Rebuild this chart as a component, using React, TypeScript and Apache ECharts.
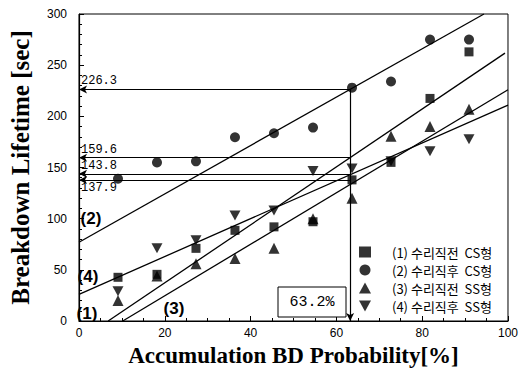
import React, { useEffect, useRef } from "react";
import * as echarts from "echarts";

// Median-rank plotting positions [%]
const probX = [9.09, 18.18, 27.27, 36.36, 45.45, 54.55, 63.64, 72.73, 81.82, 90.91];
// Breakdown lifetime [sec]
const csBefore = [42.7, 45.6, 71, 88.6, 92, 97, 137.9, 155, 217.5, 263];
const csAfter = [139, 155, 156, 179.6, 183.5, 189, 228, 234, 275, 275];
const ssBefore = [20, 44, 56, 61, 71, 100, 120, 180.6, 190, 207];
const ssAfter = [29, 71, 79, 103, 108, 146.6, 149, 156, 166, 177.7];

// fitted lines (endpoints)
const fit1 = [[6.8, 0], [99.3, 261.8]];
const fit2 = [[0, 77], [94.4, 300]];
const fit3 = [[10.2, 0], [100, 226]];
const fit4 = [[0, 26], [100, 211]];

const refX = 63.2;
const refValues = [226.3, 159.6, 143.8, 137.9];
const refLabelBelow = [false, false, false, true];

const seriesNames = [
  "(1) 수리직전  CS형",
  "(2) 수리직후  CS형",
  "(3) 수리직전  SS형",
  "(4) 수리직후  SS형",
];
const fitLabels = ["(1)", "(2)", "(3)", "(4)"];

const downTri = "path://M0,0L10,0L5,9Z";

export default function App() {
  const ref = useRef<HTMLDivElement>(null);
  useEffect(() => {
    if (!ref.current) return;
    const chart = echarts.init(ref.current, undefined, { renderer: "svg" });
    const pts = (arr: number[]) => probX.map((x, i) => [x, arr[i]]);
    const fitStyle = { color: "#000", width: 1.3 };
    const markData: any[] = refValues.map((v, i) => [
      {
        coord: [0, v],
        name: v.toFixed(1),
        symbol: "arrow",
        label: { position: refLabelBelow[i] ? "insideStartBottom" : "insideStartTop" },
      },
      { coord: [refX, v], symbol: "none" },
    ]);
    markData.push([
      { coord: [refX, refValues[0]], symbol: "none", label: { show: false } },
      { coord: [refX, 0], symbol: "arrow" },
    ]);
    chart.setOption({
      animation: false,
      backgroundColor: "#fff",
      grid: {
        left: 72,
        right: 8,
        top: 14,
        bottom: 49,
        show: true,
        borderColor: "#000",
        borderWidth: 1,
      },
      xAxis: {
        type: "value",
        min: 0,
        max: 100,
        interval: 20,
        name: "Accumulation BD Probability[%]",
        nameLocation: "middle",
        nameGap: 23,
        nameTextStyle: {
          fontFamily: "Liberation Serif",
          fontWeight: "bold",
          fontSize: 23,
          color: "#000",
        },
        axisLine: { lineStyle: { color: "#000", width: 1.2 } },
        axisTick: { inside: true, length: 5, lineStyle: { color: "#000" } },
        minorTick: { show: true, splitNumber: 4, length: 3, lineStyle: { color: "#000" } },
        splitLine: { show: false },
        axisLabel: { color: "#000", fontSize: 12, fontFamily: "Liberation Sans", margin: 6 },
      },
      yAxis: {
        type: "value",
        min: 0,
        max: 300,
        interval: 50,
        name: "Breakdown Lifetime [sec]",
        nameLocation: "middle",
        nameGap: 46,
        nameTextStyle: {
          fontFamily: "Liberation Serif",
          fontWeight: "bold",
          fontSize: 25,
          color: "#000",
        },
        axisLine: { lineStyle: { color: "#000", width: 1.2 } },
        axisTick: { inside: true, length: 5, lineStyle: { color: "#000" } },
        minorTick: { show: true, splitNumber: 5, length: 3, lineStyle: { color: "#000" } },
        splitLine: { show: false },
        axisLabel: { color: "#000", fontSize: 12, fontFamily: "Liberation Sans", margin: 12 },
      },
      legend: {
        orient: "vertical",
        left: 354,
        top: 240,
        itemWidth: 12,
        itemHeight: 11,
        itemGap: 4,
        data: seriesNames,
        textStyle: {
          fontSize: 13,
          lineHeight: 14,
          color: "#000",
          fontFamily: "Noto Sans CJK KR",
          padding: [0, 0, 0, 16],
        },
      },
      series: [
        {
          name: seriesNames[0],
          type: "scatter",
          symbol: "rect",
          symbolSize: 9,
          itemStyle: { color: "#000" },
          data: pts(csBefore),
          z: 5,
        },
        {
          name: seriesNames[1],
          type: "scatter",
          symbol: "circle",
          symbolSize: 10,
          itemStyle: { color: "#000" },
          data: pts(csAfter),
          z: 5,
        },
        {
          name: seriesNames[2],
          type: "scatter",
          symbol: "triangle",
          symbolSize: 11,
          itemStyle: { color: "#000" },
          data: pts(ssBefore),
          z: 5,
        },
        {
          name: seriesNames[3],
          type: "scatter",
          symbol: downTri,
          symbolSize: [11, 10],
          itemStyle: { color: "#000" },
          data: pts(ssAfter),
          z: 5,
        },
        {
          name: "fit1",
          type: "line",
          symbol: "none",
          lineStyle: fitStyle,
          data: fit1,
          markLine: {
            silent: true,
            symbolSize: [6, 8],
            lineStyle: { color: "#000", width: 1.2, type: "solid" },
            label: {
              show: true,
              formatter: "{b}",
              color: "#000",
              fontFamily: "Liberation Mono",
              fontSize: 12,
              distance: [2, 2],
            },
            emphasis: { disabled: true },
            data: markData,
          },
        },
        { name: "fit2", type: "line", symbol: "none", lineStyle: fitStyle, data: fit2 },
        { name: "fit3", type: "line", symbol: "none", lineStyle: fitStyle, data: fit3 },
        { name: "fit4", type: "line", symbol: "none", lineStyle: fitStyle, data: fit4 },
      ],
      graphic: [
        ...[
          [91, 218],
          [88, 276],
          [87, 313],
          [174, 308],
        ].map((p, i) => ({
          type: "text",
          x: p[0],
          y: p[1],
          style: {
            text: fitLabels[[1, 3, 0, 2][i]],
            font: "bold 17px 'Liberation Sans'",
            fill: "#000",
            align: "center",
            verticalAlign: "middle",
          },
          z: 10,
        })),
        {
          type: "rect",
          shape: { x: 278, y: 287, width: 68, height: 30 },
          style: { fill: "#fff", stroke: "#000", lineWidth: 1 },
          z: 10,
        },
        {
          type: "text",
          x: 312,
          y: 302,
          style: {
            text: "63.2%",
            font: "15px 'Liberation Mono'",
            fill: "#000",
            align: "center",
            verticalAlign: "middle",
          },
          z: 11,
        },
      ],
    });
    return () => chart.dispose();
  }, []);
  return (
    <div
      ref={ref}
      style={{ position: "fixed", left: 0, top: 0, width: 521, height: 372 }}
    />
  );
}
